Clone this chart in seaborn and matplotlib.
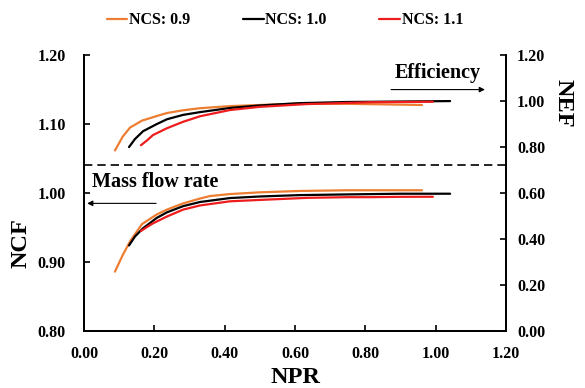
"""NCF / NEF versus NPR for three NCS values (twin-axis line chart)."""

import matplotlib

matplotlib.use("Agg")

import matplotlib.pyplot as plt
import pandas as pd
import seaborn as sns
from matplotlib.ticker import FormatStrFormatter, MultipleLocator


# NCS = 0.9
npr_09 = [0.088, 0.11, 0.131, 0.165, 0.207, 0.236, 0.282, 0.33, 0.358, 0.415,
          0.5, 0.614, 0.75, 0.88, 0.961]
ncf_09 = [0.886, 0.91, 0.93, 0.955, 0.969, 0.976, 0.985, 0.992, 0.9956, 0.9985,
          1.001, 1.003, 1.004, 1.004, 1.004]
nef_09 = [0.785, 0.845, 0.885, 0.915, 0.935, 0.948, 0.96, 0.969, 0.972, 0.978,
          0.983, 0.989, 0.988, 0.985, 0.983]

# NCS = 1.0
npr_10 = [0.128, 0.145, 0.168, 0.207, 0.236, 0.282, 0.33, 0.415, 0.5, 0.614,
          0.75, 0.9, 1.041]
ncf_10 = [0.924, 0.937, 0.949, 0.964, 0.972, 0.981, 0.987, 0.9927, 0.995, 0.997,
          0.998, 0.999, 0.999]
nef_10 = [0.80, 0.835, 0.869, 0.90, 0.921, 0.94, 0.952, 0.970, 0.981, 0.991,
          0.996, 0.998, 1.0]

# NCS = 1.1
npr_11 = [0.162, 0.18, 0.196, 0.236, 0.282, 0.33, 0.415, 0.5, 0.634, 0.75,
          0.813, 0.9, 0.992]
ncf_11 = [0.945, 0.951, 0.956, 0.966, 0.976, 0.982, 0.988, 0.990, 0.993, 0.994,
          0.994, 0.9945, 0.9946]
nef_11 = [0.808, 0.83, 0.852, 0.882, 0.91, 0.934, 0.961, 0.975, 0.987, 0.992,
          0.995, 0.996, 0.997]

series_labels = ["NCS: 0.9", "NCS: 1.0", "NCS: 1.1"]
series_colors = ["#ED7D31", "#000000", "#EE1C1C"]
divider_ncf = 1.04

x_ticks = [0.0, 0.2, 0.4, 0.6, 0.8, 1.0, 1.2]


def build_frame() -> pd.DataFrame:
    frames = []
    for label, npr, ncf, nef in zip(
        series_labels,
        [npr_09, npr_10, npr_11],
        [ncf_09, ncf_10, ncf_11],
        [nef_09, nef_10, nef_11],
    ):
        frames.append(pd.DataFrame({"NPR": npr, "NCF": ncf, "NEF": nef, "NCS": label}))
    return pd.concat(frames, ignore_index=True)


def main() -> None:
    df = build_frame()

    sns.set_theme(style="ticks")
    plt.rcParams["font.family"] = ["Liberation Serif", "DejaVu Serif"]
    plt.rcParams["font.weight"] = "bold"
    plt.rcParams["text.color"] = "black"
    plt.rcParams["axes.labelcolor"] = "black"

    fig = plt.figure(figsize=(5.85, 3.88), dpi=100)
    ax = fig.add_axes([0.1436, 0.147, 0.7214, 0.711])
    ax2 = ax.twinx()

    palette = dict(zip(series_labels, series_colors))

    sns.lineplot(data=df, x="NPR", y="NCF", hue="NCS", palette=palette,
                 sort=False, estimator=None, lw=1.6, ax=ax, legend=False)
    sns.lineplot(data=df, x="NPR", y="NEF", hue="NCS", palette=palette,
                 sort=False, estimator=None, lw=1.6, ax=ax2, legend=False)

    ax.axhline(divider_ncf, color="black", lw=1.2, ls=(0, (5, 3)))

    ax.set_xlim(0, 1.2)
    ax.set_ylim(0.8, 1.2)
    ax2.set_ylim(0.0, 1.2)
    ax.set_xticks(x_ticks)
    ax.yaxis.set_major_locator(MultipleLocator(0.1))
    ax2.yaxis.set_major_locator(MultipleLocator(0.2))
    for axis in (ax.xaxis, ax.yaxis, ax2.yaxis):
        axis.set_major_formatter(FormatStrFormatter("%.2f"))

    for a in (ax, ax2):
        a.spines["top"].set_visible(False)
        for side in ("left", "right", "bottom"):
            a.spines[side].set_linewidth(1.3)
            a.spines[side].set_color("black")
    ax.tick_params(axis="x", direction="in", length=4, width=1.2, pad=11,
                   labelsize=11.5, colors="black")
    ax.tick_params(axis="y", direction="in", length=4, width=1.2, pad=13,
                   labelsize=11.5, colors="black")
    ax2.tick_params(axis="y", direction="in", length=4, width=1.2, pad=8,
                    labelsize=11.5, colors="black")
    for lab in ax.get_xticklabels() + ax.get_yticklabels() + ax2.get_yticklabels():
        lab.set_fontweight("bold")

    ax.set_xlabel("NPR", fontsize=17.5, fontweight="bold", va="center", color="black")
    ax.xaxis.set_label_coords(0.5, -0.167)
    ax.set_ylabel("NCF", fontsize=17.5, fontweight="bold", va="center", ha="center",
                  color="black")
    ax.yaxis.set_label_coords(-0.149, 0.319)
    ax2.set_ylabel("NEF", fontsize=17.5, fontweight="bold", rotation=270,
                   va="center", ha="center", color="black")
    ax2.yaxis.set_label_coords(1.135, 0.825)

    # arrows telling which axis each group of curves belongs to
    ax.annotate("", xy=(1.14, 1.150), xytext=(0.873, 1.150),
                arrowprops=dict(arrowstyle="-|>", lw=0.8, color="black",
                                mutation_scale=8, shrinkA=0, shrinkB=0))
    ax.text(1.007, 1.174, "Efficiency", fontsize=14.5, fontweight="bold",
            ha="center", va="center", color="black")
    ax.annotate("", xy=(0.009, 0.985), xytext=(0.205, 0.985),
                arrowprops=dict(arrowstyle="-|>", lw=0.8, color="black",
                                mutation_scale=8, shrinkA=0, shrinkB=0))
    ax.text(0.023, 1.016, "Mass flow rate", fontsize=14.5, fontweight="bold",
            ha="left", va="center", color="black")

    handles = ax.get_lines()[:3]
    fig.legend(handles, series_labels, loc="center", bbox_to_anchor=(0.487, 0.948),
               ncol=3, frameon=False, fontsize=11.5, handlelength=1.3,
               handletextpad=0.1, columnspacing=3.3, labelcolor="black")

    fig.savefig("out.png", dpi=100)
    plt.close(fig)


if __name__ == "__main__":
    main()
